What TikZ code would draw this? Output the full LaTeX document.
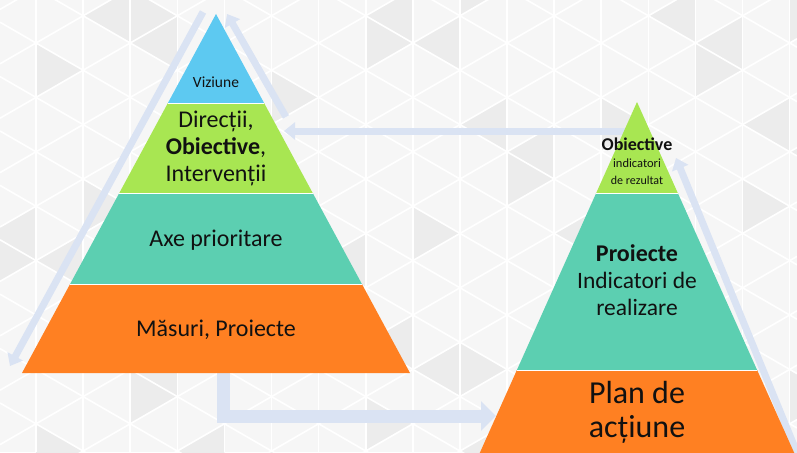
\documentclass[tikz,border=0pt]{standalone}
\usepackage{fontspec}
\setmainfont{Carlito}
\usetikzlibrary{arrows.meta}
\definecolor{bgc}{HTML}{F6F6F6}
\definecolor{bgd}{HTML}{ECECEC}
\definecolor{pblue}{HTML}{5DC9F1}
\definecolor{pgreen}{HTML}{A8E652}
\definecolor{pteal}{HTML}{5CCFB1}
\definecolor{porange}{HTML}{FF8022}
\definecolor{arrowc}{HTML}{DAE3F3}
\definecolor{txt}{HTML}{111111}
\tikzset{
  latt/.style={draw=white, line width=1.6pt},
  layer/.style={draw=white, line width=1pt},
  flow/.style={draw=arrowc, line width=7pt, -{Triangle[width=17pt,length=11pt]}},
  bigflow/.style={draw=arrowc, line width=13pt, line join=miter, -{Triangle[width=29pt,length=15pt]}},
  lbl/.style={anchor=base, inner sep=0pt, text=txt},
}
\newcommand{\fs}[2]{\fontsize{#1}{#2}\selectfont}
\begin{document}
\begin{tikzpicture}[x=1pt,y=-1pt]
\useasboundingbox (0,0) rectangle (797,452);
\begin{scope}
\clip (0,0) rectangle (797,452);
% background lattice
\fill[bgc] (0,0) rectangle (797,452);
\foreach \i in {-1,...,16} {
  \foreach \j in {-1,...,8} {
    \pgfmathsetmacro{\xa}{36+47.1*\i}
    \pgfmathsetmacro{\xb}{\xa+47.1}
    \pgfmathsetmacro{\ya}{43+27.2*mod(\i+2,2)+54.4*\j}
    \pgfmathsetmacro{\yb}{43+27.2*mod(\i+3,2)+54.4*\j}
    \pgfmathtruncatemacro{\sa}{mod(7*\i+11*\j+40,6)}
    \pgfmathtruncatemacro{\sb}{mod(5*\i+3*\j+42,7)}
    \ifnum\sa=0 \fill[bgd] (\xa,\ya) -- (\xb,\ya-27.2) -- (\xb,\ya+27.2) -- cycle; \fi
    \ifnum\sb=0 \fill[bgd] (\xb,\yb) -- (\xa,\yb-27.2) -- (\xa,\yb+27.2) -- cycle; \fi
  }
}
\foreach \i in {0,...,16} \draw[latt] ({36+47.1*\i},0) -- ({36+47.1*\i},452);
\foreach \k in {-12,...,14} {
  \draw[latt] (0,{-195.4+54.4*\k}) -- (797,{264.8+54.4*\k});
  \draw[latt] (0,{281.4+54.4*\k}) -- (797,{-178.8+54.4*\k});
}
% arrow coordinates
\coordinate (a1s) at (203,12);
\coordinate (a1e) at (10,366);
\coordinate (a2s) at (286,117);
\coordinate (a2e) at (227,14);
\coordinate (a3s) at (626,131);
\coordinate (a3e) at (284,131);
\coordinate (a4s) at (223.5,370);
\coordinate (a4e) at (496,416);
\coordinate (a5s) at (800,460);
\coordinate (a5e) at (676,158);
% arrows
\draw[flow] (a1s) -- (a1e);
\draw[flow] (a2s) -- (a2e);
\draw[flow] (a3s) -- (a3e);
\draw[bigflow] (a4s) |- (a4e);
\draw[flow] (a5s) -- (a5e);
% left pyramid
\fill[pblue] (216,14) -- (264.1,103) -- (167.9,103) -- cycle;
\fill[pgreen] (167.9,103) -- (264.1,103) -- (312.7,193) -- (119.3,193) -- cycle;
\fill[pteal] (119.3,193) -- (312.7,193) -- (361.9,284) -- (70.1,284) -- cycle;
\fill[porange] (70.1,284) -- (361.9,284) -- (410,373) -- (22,373) -- cycle;
\draw[layer] (167.9,103) -- (264.1,103);
\draw[layer] (119.3,193) -- (312.7,193);
\draw[layer] (70.1,284) -- (361.9,284);
% right pyramid
\fill[pgreen] (637,102) -- (677.8,193) -- (596.2,193) -- cycle;
\fill[pteal] (596.2,193) -- (677.8,193) -- (757.1,370) -- (516.9,370) -- cycle;
\fill[porange] (516.9,370) -- (757.1,370) -- (797.4,460) -- (476.6,460) -- cycle;
\draw[layer] (596.2,193) -- (677.8,193);
\draw[layer] (516.9,370) -- (757.1,370);
% left texts
\node[lbl, font=\fs{15.5}{18}] (viz) at (216,87) {Viziune};
\node[lbl, font=\fs{24}{27}] (dir1) at (216,127.3) {Direcții,};
\node[lbl, font=\fs{24}{27}] (dir2) at (216,154) {\textbf{Obiective},};
\node[lbl, font=\fs{24}{27}] (dir3) at (216,181.7) {Intervenții};
\node[lbl, font=\fs{24}{27}] (axe) at (216,246) {Axe prioritare};
\node[lbl, font=\fs{24}{27}] (mas) at (216,336) {Măsuri, Proiecte};
% right texts
\node[lbl, font=\fs{18}{20}\bfseries] (obj) at (637,150) {Obiective};
\node[lbl, font=\fs{12.5}{15}] (ind1) at (637,167.5) {indicatori};
\node[lbl, font=\fs{12}{15}] (ind2) at (637,184) {de rezultat};
\node[lbl, font=\fs{24}{27}\bfseries] (pro) at (637,261) {Proiecte};
\node[lbl, font=\fs{23.5}{27}] (ir1) at (637,288) {Indicatori de};
\node[lbl, font=\fs{23.5}{27}] (ir2) at (637,315) {realizare};
\node[lbl, font=\fs{32}{35}] (plan1) at (637,403) {Plan de};
\node[lbl, font=\fs{32}{35}] (plan2) at (637,437) {acțiune};
\end{scope}
\end{tikzpicture}
\end{document}
